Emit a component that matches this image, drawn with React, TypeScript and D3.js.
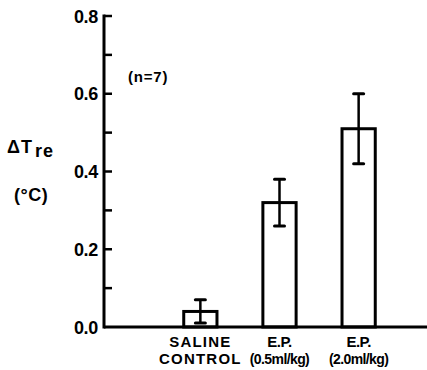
import React, { useEffect, useRef } from 'react';
import * as d3 from 'd3';

// categories (two text lines each), means and s.e.m.
const groupLine1 = ['SALINE', 'E.P.', 'E.P.'];
const groupLine2 = ['CONTROL', '(0.5ml/kg)', '(2.0ml/kg)'];
const meanValues = [0.04, 0.32, 0.51];
const semValues = [0.03, 0.06, 0.09];
const majorTicks = [0.0, 0.2, 0.4, 0.6, 0.8];
const minorTicks = [0.1, 0.3, 0.5, 0.7];

const W = 427;
const H = 370;
const FONT = '"Liberation Sans", Arial, sans-serif';

const App = () => {
  const svgRef = useRef<SVGSVGElement>(null);

  useEffect(() => {
    const svg = d3.select(svgRef.current);
    svg.selectAll('*').remove();

    const axisX = 104;
    const yScale = d3.scaleLinear().domain([0, 0.8]).range([327, 16]);
    const xScale = d3.scaleBand<number>()
      .domain(d3.range(meanValues.length))
      .range([160, 399])
      .paddingInner(0.58)
      .paddingOuter(0.3);
    const cx = (i: number) => xScale(i)! + xScale.bandwidth() / 2;

    const g = svg.append('g');

    // y axis line + x baseline
    g.append('line')
      .attr('x1', axisX).attr('x2', axisX)
      .attr('y1', yScale(0.8) - 1.5).attr('y2', yScale(0) + 1.5)
      .attr('stroke', '#000').attr('stroke-width', 3);
    g.append('line')
      .attr('x1', axisX).attr('x2', W)
      .attr('y1', yScale(0)).attr('y2', yScale(0))
      .attr('stroke', '#000').attr('stroke-width', 3);

    // ticks point inward
    g.selectAll('.major')
      .data(majorTicks.filter(t => t > 0).concat(minorTicks))
      .join('line')
      .attr('x1', axisX).attr('x2', axisX + 8)
      .attr('y1', d => yScale(d)).attr('y2', d => yScale(d))
      .attr('stroke', '#000').attr('stroke-width', 2.5);

    g.selectAll('.tickLabel')
      .data(majorTicks)
      .join('text')
      .attr('x', axisX - 6)
      .attr('y', d => yScale(d) + 6.5)
      .attr('text-anchor', 'end')
      .attr('font-family', FONT)
      .attr('font-weight', 'bold')
      .attr('font-size', 18)
      .attr('letter-spacing', -0.3)
      .text(d => d.toFixed(1));

    // bars
    g.selectAll('.bar')
      .data(meanValues)
      .join('rect')
      .attr('x', (d, i) => xScale(i)!)
      .attr('y', d => yScale(d))
      .attr('width', xScale.bandwidth())
      .attr('height', d => yScale(0) - yScale(d))
      .attr('fill', 'none')
      .attr('stroke', '#000')
      .attr('stroke-width', 3);

    // error bars
    const eb = g.selectAll('.err')
      .data(meanValues)
      .join('g');
    eb.append('line')
      .attr('x1', (d, i) => cx(i))
      .attr('x2', (d, i) => cx(i))
      .attr('y1', (d, i) => yScale(d + semValues[i]))
      .attr('y2', (d, i) => yScale(d - semValues[i]))
      .attr('stroke', '#000').attr('stroke-width', 2.5);
    [1, -1].forEach(sgn => {
      eb.append('line')
        .attr('x1', (d, i) => cx(i) - 5)
        .attr('x2', (d, i) => cx(i) + 5)
        .attr('y1', (d, i) => yScale(d + sgn * semValues[i]))
        .attr('y2', (d, i) => yScale(d + sgn * semValues[i]))
        .attr('stroke', '#000').attr('stroke-width', 3)
        .attr('stroke-linecap', 'round');
    });

    // category labels
    g.selectAll('.cat1')
      .data(groupLine1)
      .join('text')
      .attr('x', (d, i) => cx(i))
      .attr('y', 347)
      .attr('text-anchor', 'middle')
      .attr('font-family', FONT)
      .attr('font-weight', 'bold')
      .attr('font-size', 15)
      .attr('letter-spacing', (d, i) => (i === 0 ? 1.2 : -0.5))
      .text(d => d);
    g.selectAll('.cat2')
      .data(groupLine2)
      .join('text')
      .attr('x', (d, i) => cx(i))
      .attr('y', 364)
      .attr('text-anchor', 'middle')
      .attr('font-family', FONT)
      .attr('font-weight', 'bold')
      .attr('font-size', (d, i) => (i === 0 ? 15 : 14))
      .attr('letter-spacing', (d, i) => (i === 0 ? 1.2 : -0.6))
      .text(d => d);

    // y label
    const yl = g.append('text')
      .attr('x', 7).attr('y', 153)
      .attr('font-family', FONT)
      .attr('font-weight', 'bold')
      .attr('font-size', 18)
      .attr('letter-spacing', 1);
    yl.append('tspan').text('ΔT');
    yl.append('tspan').attr('dx', 3).attr('dy', 4).attr('font-size', 18).text('re');
    g.append('text')
      .attr('x', 14).attr('y', 201)
      .attr('font-family', FONT)
      .attr('font-weight', 'bold')
      .attr('font-size', 18)
      .attr('letter-spacing', 0.5)
      .text('(°C)');

    g.append('text')
      .attr('x', 128).attr('y', 82)
      .attr('font-family', FONT)
      .attr('font-weight', 'bold')
      .attr('font-size', 15)
      .attr('letter-spacing', 0.8)
      .text('(n=7)');
  }, []);

  return (
    <svg
      ref={svgRef}
      width={W}
      height={H}
      style={{ position: 'absolute', left: 0, top: 0, background: '#fff' }}
    />
  );
};

export default App;
